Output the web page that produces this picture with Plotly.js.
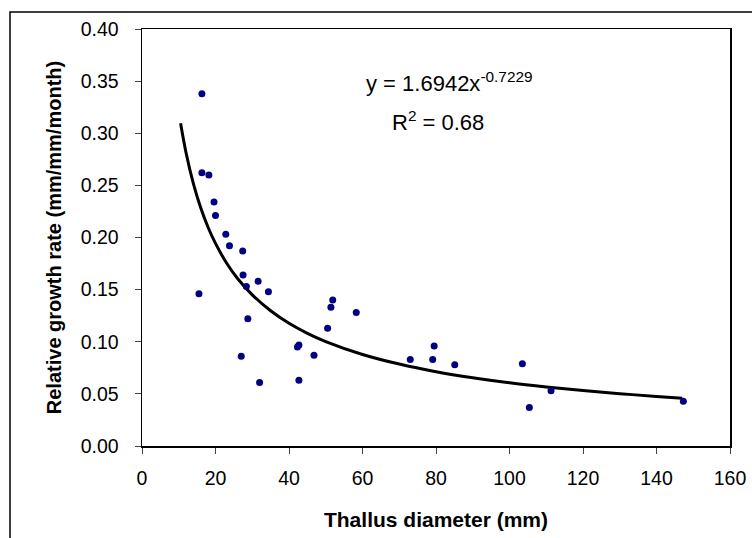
<!DOCTYPE html>
<html>
<head>
<meta charset="utf-8">
<script src="https://cdn.plot.ly/plotly-3.0.1.min.js"></script>
<style>html,body{margin:0;padding:0;background:#fff;}#chart{width:752px;height:538px;}</style>
</head>
<body>
<div id="chart"></div>
<script>
// Observed points
const diameter = [16.3, 16.3, 18.2, 19.6, 20.0, 22.8, 23.8, 27.4, 27.5, 28.4, 31.6, 34.4, 15.5, 28.8, 51.9, 51.4, 58.3, 50.5, 42.7, 42.3, 46.8, 27.0, 32.0, 42.7, 73.0, 79.1, 79.5, 85.1, 103.5, 105.4, 111.3, 147.3];
const growth = [0.338, 0.262, 0.260, 0.234, 0.221, 0.203, 0.192, 0.187, 0.164, 0.153, 0.158, 0.148, 0.146, 0.122, 0.140, 0.133, 0.128, 0.113, 0.097, 0.095, 0.087, 0.086, 0.061, 0.063, 0.083, 0.083, 0.096, 0.078, 0.079, 0.037, 0.053, 0.043];
// Power trendline
const trendX = [10.5, 12, 14, 16, 18, 20, 23, 26, 30, 35, 40, 45, 50, 60, 70, 80, 90, 100, 110, 120, 130, 140, 147];
const trendY = [0.3096, 0.2811, 0.2515, 0.2283, 0.2096, 0.1943, 0.1756, 0.1607, 0.1450, 0.1297, 0.1177, 0.1081, 0.1002, 0.0878, 0.0786, 0.0713, 0.0655, 0.0607, 0.0567, 0.0532, 0.0502, 0.0476, 0.0459];
const xTicks = [0, 20, 40, 60, 80, 100, 120, 140, 160];
const yTicks = [0, 0.05, 0.10, 0.15, 0.20, 0.25, 0.30, 0.35, 0.40];

const font = 'Liberation Sans, Arial, sans-serif';
const data = [
  {x: trendX, y: trendY, mode: 'lines', type: 'scatter', line: {color: '#000', width: 3, shape: 'spline'}, hoverinfo: 'skip'},
  {x: diameter, y: growth, mode: 'markers', type: 'scatter', marker: {color: '#000080', size: 7}}
];
const layout = {
  width: 752, height: 538,
  margin: {l: 142, r: 22, t: 29, b: 92},
  paper_bgcolor: '#fff', plot_bgcolor: '#fff',
  showlegend: false,
  font: {family: font, color: '#000', size: 19.5},
  xaxis: {
    range: [0, 160], tickvals: xTicks, ticktext: xTicks.map(String),
    showgrid: false, zeroline: false, showline: true, mirror: true, linecolor: '#000', linewidth: 1.5,
    ticks: 'outside', ticklen: 6, tickcolor: '#444', tickwidth: 1,
    tickfont: {family: font, size: 19.5}, ticklabelstandoff: 8,
    title: {text: '<b>Thallus diameter (mm)</b>', font: {family: font, size: 21}, standoff: 24}
  },
  yaxis: {
    range: [0, 0.40], tickvals: yTicks, ticktext: yTicks.map(v => v.toFixed(2)),
    showgrid: false, zeroline: false, showline: true, mirror: true, linecolor: '#000', linewidth: 1.5,
    ticks: 'outside', ticklen: 6, tickcolor: '#444', tickwidth: 1,
    tickfont: {family: font, size: 19.5}, ticklabelstandoff: 12,
    title: {text: '<b>Relative growth rate (mm/mm/month)</b>', font: {family: font, size: 20}, standoff: 13}
  },
  annotations: [
    {x: 83.8, y: 0.349, xref: 'x', yref: 'y', text: 'y = 1.6942x<sup>-0.7229</sup>', showarrow: false, font: {family: font, size: 22}},
    {x: 80.5, y: 0.312, xref: 'x', yref: 'y', text: 'R<sup>2</sup> = 0.68', showarrow: false, font: {family: font, size: 22}}
  ],
  shapes: [
    {type: 'rect', xref: 'paper', yref: 'paper', x0: -0.2245, x1: 1.2, y0: -0.4, y1: 1.0408, line: {color: '#000', width: 1.5}, fillcolor: 'rgba(0,0,0,0)'}
  ]
};
Plotly.newPlot('chart', data, layout, {displayModeBar: false, staticPlot: true});
</script>
</body>
</html>
